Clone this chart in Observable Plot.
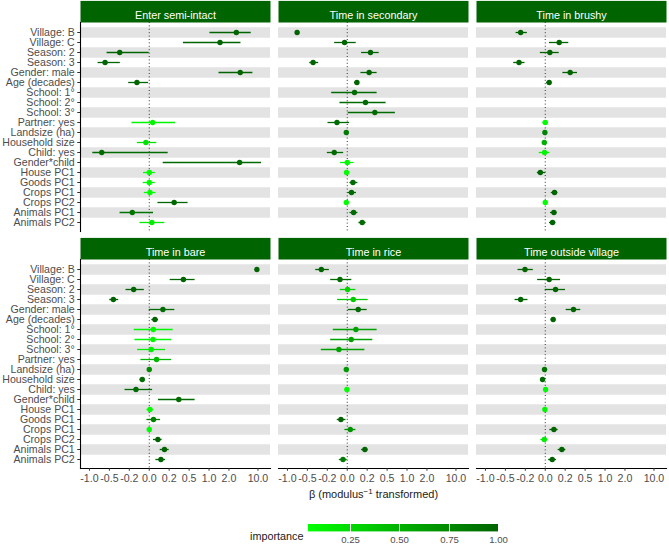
<!DOCTYPE html>
<html>
<head>
<meta charset="utf-8">
<script src="https://cdn.jsdelivr.net/npm/d3@7"></script>
<script src="https://cdn.jsdelivr.net/npm/@observablehq/plot@0.6"></script>
<style>
  body { margin: 0; background: #fff; }
  #wrap { position: relative; width: 669px; height: 547px; font-family: "Liberation Sans", Arial, Helvetica, sans-serif; }
  #x-title { position: absolute; left: 79px; width: 589px; top: 487px; text-align: center; font-size: 11px; line-height: 14px; color: #1a1a1a; }
  #x-title sup { font-size: 8px; line-height: 0; vertical-align: 4px; }
  #legend-title { position: absolute; left: 250px; top: 530px; font-size: 10.8px; color: #1a1a1a; line-height: 13px; }
  #legend { position: absolute; left: 308px; top: 522px; }
  #legend line { stroke: #fff; }
</style>
</head>
<body>
<div id="wrap">
  <div id="chart"></div>
  <div id="x-title">β (modulus<sup>−1</sup> transformed)</div>
  <div id="legend-title">importance</div>
  <div id="legend"></div>
</div>
<script>
// Model terms, top to bottom
const terms = [
  "Village: B", "Village: C", "Season: 2", "Season: 3", "Gender: male", "Age (decades)",
  "School: 1°", "School: 2°", "School: 3°", "Partner: yes", "Landsize (ha)", "Household size",
  "Child: yes", "Gender*child", "House PC1", "Goods PC1", "Crops PC1", "Crops PC2",
  "Animals PC1", "Animals PC2"
];

// Response models, in facet order
const panels = ["Enter semi-intact", "Time in secondary", "Time in brushy",
                "Time in bare", "Time in rice", "Time outside village"];

// Coefficients (β), 95% interval and importance per term; null = term not in model
const semiEst = [2.68, 1.45, -0.328, -0.586, 3.18, -0.115, null, null, null, 0.029, null, -0.029, -0.659, 3.09, 0.0, 0.0, 0.006, 0.263, -0.165, 0.023];
const semiLo  = [1.03, 0.40, -0.545, -0.748, 1.40, -0.208, null, null, null, -0.169, null, -0.111, -0.895, 0.132, -0.05, -0.053, -0.043, 0.078, -0.323, -0.084];
const semiHi  = [5.8, 3.29, 0.0, -0.319, 6.5, -0.006, null, null, null, 0.281, null, 0.068, 0.188, 15.3, 0.053, 0.053, 0.059, 0.481, 0.037, 0.150];
const semiImp = [1, 1, 1, 1, 1, 0.98, null, null, null, 0.1, null, 0.2, 0.95, 0.95, 0.05, 0.06, 0.05, 0.97, 0.9, 0.15];

const secEst = [-0.722, -0.023, 0.241, -0.40, 0.224, 0.088, 0.065, 0.180, 0.300, -0.094, -0.008, null, -0.122, 0.0, -0.006, 0.05, 0.037, -0.008, 0.056, 0.143];
const secLo  = [-0.745, -0.118, 0.136, -0.457, 0.129, 0.065, -0.150, -0.065, 0.008, -0.192, -0.016, null, -0.2, -0.059, -0.015, 0.023, 0.008, -0.017, 0.023, 0.108];
const secHi  = [-0.70, 0.081, 0.364, -0.314, 0.333, 0.111, 0.333, 0.481, 0.674, 0.02, 0.0, null, -0.031, 0.059, 0.003, 0.098, 0.084, 0.001, 0.098, 0.188];
const secImp = [1, 1, 1, 1, 1, 1, 0.95, 0.95, 0.95, 0.95, 0.85, null, 0.95, 0.08, 0.05, 0.95, 0.95, 0.05, 0.95, 0.95];

const brushEst = [-0.259, 0.132, 0.040, -0.281, 0.263, 0.034, null, null, null, 0.0, -0.003, -0.008, -0.006, null, -0.043, null, 0.084, 0.0, 0.078, 0.065];
const brushLo  = [-0.323, 0.037, -0.043, -0.358, 0.173, 0.011, null, null, null, -0.02, -0.012, -0.017, -0.053, null, -0.071, null, 0.053, -0.008, 0.046, 0.037];
const brushHi  = [-0.176, 0.245, 0.132, -0.204, 0.369, 0.057, null, null, null, 0.02, 0.006, 0.001, 0.04, null, 0.003, null, 0.118, 0.008, 0.111, 0.098];
const brushImp = [1, 1, 1, 1, 1, 1, null, null, null, 0.05, 0.8, 0.5, 0.1, null, 1, null, 1, 0.05, 1, 1];

const bareEst = [9.0, 0.40, -0.150, -0.429, 0.129, 0.05, 0.035, 0.032, 0.017, 0.065, 0.0, -0.062, -0.125, 0.328, 0.006, 0.037, 0.0, 0.078, 0.146, 0.108];
const bareLo  = [8.2, 0.212, -0.241, -0.494, 0.0, 0.022, -0.143, -0.136, -0.108, -0.075, -0.01, -0.084, -0.254, 0.084, -0.02, -0.02, -0.014, 0.037, 0.101, 0.059];
const bareHi  = [9.9, 0.622, -0.043, -0.343, 0.272, 0.084, 0.25, 0.229, 0.158, 0.229, 0.01, -0.040, 0.029, 0.622, 0.035, 0.104, 0.014, 0.121, 0.2, 0.158];
const bareImp = [1, 1, 1, 1, 0.95, 1, 0.08, 0.08, 0.12, 0.45, 0.75, 0.95, 0.95, 0.95, 0.05, 0.8, 0.04, 1, 1, 1];

const riceEst = [-0.277, -0.065, 0.003, 0.053, 0.101, null, 0.078, 0.034, -0.075, null, -0.008, null, -0.003, null, null, -0.056, 0.026, null, 0.173, -0.037];
const riceLo  = [-0.358, -0.161, -0.062, -0.088, 0.008, null, -0.132, -0.161, -0.277, null, -0.015, null, -0.01, null, null, -0.091, -0.02, null, 0.136, -0.071];
const riceHi  = [-0.176, 0.040, 0.078, 0.212, 0.2, null, 0.333, 0.272, 0.173, null, 0.0, null, 0.004, null, null, -0.011, 0.078, null, 0.212, 0.0];
const riceImp = [1, 0.95, 0.3, 0.35, 0.95, null, 0.6, 0.6, 0.6, null, 0.65, null, 0.05, null, null, 1, 0.7, null, 1, 0.85];

const outEst = [-0.204, 0.034, 0.094, -0.259, 0.309, 0.071, null, null, null, null, -0.006, -0.023, 0.003, null, -0.003, null, 0.078, -0.008, 0.161, 0.062];
const outLo  = [-0.295, -0.068, 0.0, -0.338, 0.212, 0.051, null, null, null, null, -0.014, -0.031, -0.005, null, -0.012, null, 0.04, -0.038, 0.121, 0.029];
const outHi  = [-0.111, 0.146, 0.204, -0.169, 0.423, 0.091, null, null, null, null, 0.002, -0.015, 0.011, null, 0.006, null, 0.121, 0.023, 0.208, 0.104];
const outImp = [1, 1, 1, 1, 1, 1, null, null, null, null, 0.9, 0.95, 0.06, null, 0.1, null, 1, 0.15, 1, 1];

// Axis breaks (β scale) and their labels; extra grid lines near the upper end
const xBreaks = [-1, -0.5, -0.2, 0, 0.2, 0.5, 1, 2, 10];
const xBreakLabels = ["-1.0", "-0.5", "-0.2", "0.0", "0.2", "0.5", "1.0", "2.0", "10.0"];
const xMinorBreaks = [3, 4, 5, 6, 7, 8, 9, 20];
const importanceTicks = [0.25, 0.5, 0.75, 1];

// Modulus transform with λ = -1
const modulus = b => Math.sign(b) * (1 - 1 / (Math.abs(b) + 1));

const series = [
  [semiEst, semiLo, semiHi, semiImp],
  [secEst, secLo, secHi, secImp],
  [brushEst, brushLo, brushHi, brushImp],
  [bareEst, bareLo, bareHi, bareImp],
  [riceEst, riceLo, riceHi, riceImp],
  [outEst, outLo, outHi, outImp]
];

const table = [];
series.forEach(([est, lo, hi, imp], i) => {
  est.forEach((e, j) => {
    if (e == null) return;
    table.push({
      panel: panels[i], col: i % 3, row: Math.floor(i / 3), term: terms[j],
      est: modulus(e), lo: modulus(lo[j]), hi: modulus(hi[j]), imp: imp[j]
    });
  });
});

const strips = panels.map((name, i) => ({name, col: i % 3, row: Math.floor(i / 3)}));

const tickPos = xBreaks.map(modulus);
const tickLabel = new Map(tickPos.map((t, i) => [t, xBreakLabels[i]]));
const gridPos = tickPos.concat(xMinorBreaks.map(modulus));

const shaded = terms.filter((t, i) => i % 2 === 0);
const plain = terms.filter((t, i) => i % 2 === 1);
const gridOn = (rowsList) => rowsList.flatMap(term => gridPos.map(x => ({term, x})));

const impExtent = d3.extent(table, d => d.imp);
const colorOpts = {type: "linear", domain: impExtent, range: ["#00ff00", "#006400"], interpolate: "lab"};

// Layout
const W = 669, H = 508;
const mTop = 22, mBottom = 39.5, mLeft = 79, mRight = 1;
const rowPad = 0.12, yOuter = 0.135;
const panelH = (H - mTop - mBottom) / (2 - rowPad);  // band step
const panelInner = panelH * (1 - rowPad);
const stripH = 21.6;
const rowStep = panelInner / (terms.length + 2 * yOuter);

const chart = Plot.plot({
  width: W,
  height: H,
  marginTop: mTop,
  marginBottom: mBottom,
  marginLeft: mLeft,
  marginRight: mRight,
  style: {fontFamily: '"Liberation Sans", Arial, Helvetica, sans-serif', fontSize: "10.6px", background: "#fff"},
  fx: {domain: [0, 1, 2], paddingInner: 0.0402, paddingOuter: 0, axis: null},
  fy: {domain: [0, 1], paddingInner: rowPad, paddingOuter: 0, axis: null},
  x: {domain: [-0.575, 1.014]},
  y: {domain: terms, paddingInner: 0, paddingOuter: yOuter},
  color: colorOpts,
  marks: [
    // alternating row shading
    Plot.ruleY(shaded, {y: d => d, stroke: "#e3e3e3", strokeWidth: rowStep}),
    // vertical grid, drawn row by row
    Plot.ruleX(gridOn(plain), {x: "x", y: "term", stroke: "#ebebeb", strokeWidth: 1}),
    Plot.ruleX(gridOn(shaded), {x: "x", y: "term", stroke: "#f7f7f7", strokeWidth: 1}),
    // facet strips
    Plot.frame({fill: "#006400", stroke: null, dy: -stripH, insetBottom: panelInner - stripH}),
    Plot.text(strips, {fx: "col", fy: "row", text: "name", frameAnchor: "top", dy: -stripH / 2, fill: "#fff", fontSize: 10.8}),
    // zero reference
    Plot.ruleX([0], {stroke: "#333", strokeWidth: 1, strokeDasharray: "1,2.4"}),
    // intervals and estimates
    Plot.ruleY(table, {fx: "col", fy: "row", y: "term", x1: "lo", x2: "hi", stroke: "imp", strokeWidth: 1.3}),
    Plot.dot(table, {fx: "col", fy: "row", y: "term", x: "est", fill: "imp", r: 2.7}),
    // axes
    Plot.frame({anchor: "left", facetAnchor: "left", stroke: "#000", strokeWidth: 1.1}),
    Plot.frame({anchor: "bottom", facetAnchor: "bottom", stroke: "#000", strokeWidth: 1.1}),
    Plot.axisY({anchor: "left", tickSize: 2.75, tickPadding: 3, stroke: "#333", fill: "#4d4d4d", label: null}),
    Plot.axisX({
      anchor: "bottom", ticks: tickPos, tickFormat: d => tickLabel.get(d),
      tickSize: 2.75, tickPadding: 3, stroke: "#333", fill: "#4d4d4d", label: null
    })
  ]
});
document.getElementById("chart").appendChild(chart);

const legend = Plot.legend({
  color: colorOpts,
  ticks: importanceTicks,
  tickFormat: ".2f",
  tickSize: 2,
  label: null,
  width: 205,
  height: 24,
  marginTop: 2,
  marginBottom: 14.6,
  marginLeft: 0,
  marginRight: 205 - 190.4,
  style: {fontFamily: '"Liberation Sans", Arial, Helvetica, sans-serif', fontSize: "9.6px", color: "#4d4d4d", overflow: "visible"}
});
document.getElementById("legend").appendChild(legend);
</script>
</body>
</html>
